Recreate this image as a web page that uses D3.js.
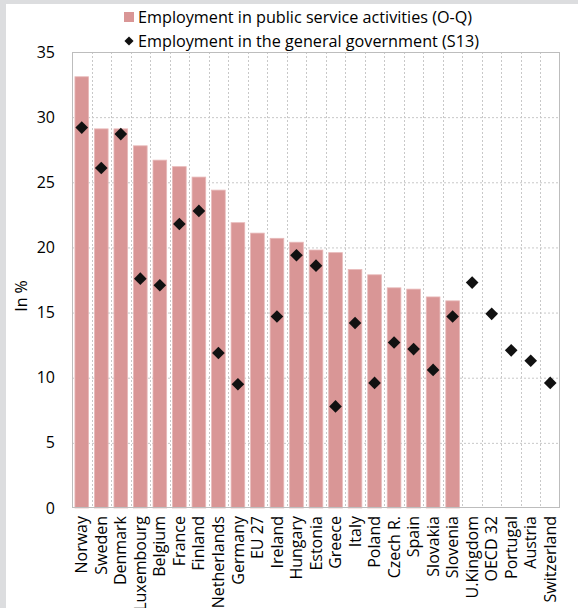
<!DOCTYPE html>
<html><head><meta charset="utf-8">
<script src="https://cdn.jsdelivr.net/npm/d3@7"></script>
<style>
html,body{margin:0;padding:0;background:#dcdddf;}
svg{display:block;}
text{font-family:"Open Sans","Noto Sans",sans-serif;fill:#000;}
</style></head><body>
<svg id="c" width="578" height="608"></svg>
<script>
const categories = ["Norway","Sweden","Denmark","Luxembourg","Belgium","France","Finland","Netherlands","Germany","EU 27","Ireland","Hungary","Estonia","Greece","Italy","Poland","Czech R.","Spain","Slovakia","Slovenia","U.Kingdom","OECD 32","Portugal","Austria","Switzerland"];
const publicService = [33.1,29.1,29.1,27.8,26.7,26.2,25.4,24.4,21.9,21.1,20.7,20.4,19.8,19.6,18.3,17.9,16.9,16.8,16.2,15.9,null,null,null,null,null];
const generalGov = [29.2,26.1,28.7,17.6,17.1,21.8,22.8,11.9,9.5,null,14.7,19.4,18.6,7.8,14.2,9.6,12.7,12.2,10.6,14.7,17.3,14.9,12.1,11.3,9.6];
const yTicks = [0,5,10,15,20,25,30,35];
const legendLabels = ["Employment in public service activities (O-Q)","Employment in the general government (S13)"];

const svg = d3.select("#c");
svg.append("rect").attr("x",6).attr("y",4).attr("width",572).attr("height",604).attr("fill","#fff");

const L=72, R=560, T=52, B=508;
const x = d3.scaleBand().domain(categories).range([L,R]).paddingInner(0.3).paddingOuter(0.15);
const xb = d3.scaleBand().domain(categories).range([L,R]);
const y = d3.scaleLinear().domain([0,35]).range([B,T]);

// grid
const g = svg.append("g");
g.selectAll("line.h").data(yTicks.filter(t=>t>0&&t<35)).join("line")
 .attr("x1",L).attr("x2",R).attr("y1",d=>y(d)+0.5).attr("y2",d=>y(d)+0.5)
 .attr("stroke","#c8c8c8").attr("stroke-dasharray","2,2");
g.selectAll("line.v").data(categories.slice(1)).join("line")
 .attr("x1",d=>Math.round(xb(d))+0.5).attr("x2",d=>Math.round(xb(d))+0.5).attr("y1",T).attr("y2",B)
 .attr("stroke","#c8c8c8").attr("stroke-dasharray","2,2");

// bars
svg.append("g").selectAll("rect").data(categories.map((c,i)=>({c,v:publicService[i]})).filter(d=>d.v!=null)).join("rect")
 .attr("x",d=>x(d.c)).attr("width",x.bandwidth()).attr("y",d=>y(d.v)).attr("height",d=>B-y(d.v))
 .attr("fill","#d99696").attr("stroke","#e8b9b9").attr("stroke-width",0.8);

// frame
svg.append("rect").attr("x",L+0.5).attr("y",T+0.5).attr("width",R-L-1).attr("height",B-T-1)
 .attr("fill","none").attr("stroke","#bdbdbd");

// diamonds
const diamond = d3.symbol().type(d3.symbolSquare).size(80);
svg.append("g").selectAll("path").data(categories.map((c,i)=>({c,v:generalGov[i]})).filter(d=>d.v!=null)).join("path")
 .attr("d",diamond).attr("fill","#111")
 .attr("transform",d=>`translate(${x(d.c)+x.bandwidth()/2},${y(d.v)}) rotate(45)`);

// y axis labels
const ya = svg.append("g").attr("transform",`translate(${L},0)`)
 .call(d3.axisLeft(y).tickValues(yTicks).tickSize(0).tickPadding(17));
ya.select(".domain").remove();
ya.selectAll("text").attr("font-size",16).attr("font-family","Open Sans, Noto Sans, sans-serif").attr("fill","#000");

svg.append("text").attr("transform","translate(27,296) rotate(-90)").attr("text-anchor","middle")
 .attr("font-size",16).text("In %");

// x labels
const xa = svg.append("g").attr("transform",`translate(0,${B})`).call(d3.axisBottom(x).tickSize(0));
xa.select(".domain").remove();
xa.selectAll("text").attr("font-size",16).attr("font-family","Open Sans, Noto Sans, sans-serif").attr("fill","#000")
 .attr("text-anchor","end").attr("transform","rotate(-90)").attr("x",-8).attr("y",0).attr("dy","0.35em");

// legend
const lg = svg.append("g");
lg.append("rect").attr("x",124).attr("y",12).attr("width",10).attr("height",10).attr("fill","#d99696");
lg.append("text").attr("x",138).attr("y",23).attr("font-size",16.2).text(legendLabels[0]);
lg.append("path").attr("d",d3.symbol().type(d3.symbolSquare).size(42)).attr("fill","#111")
 .attr("transform","translate(129,41) rotate(45)");
lg.append("text").attr("x",138).attr("y",47).attr("font-size",16.2).text(legendLabels[1]);
</script></body></html>
